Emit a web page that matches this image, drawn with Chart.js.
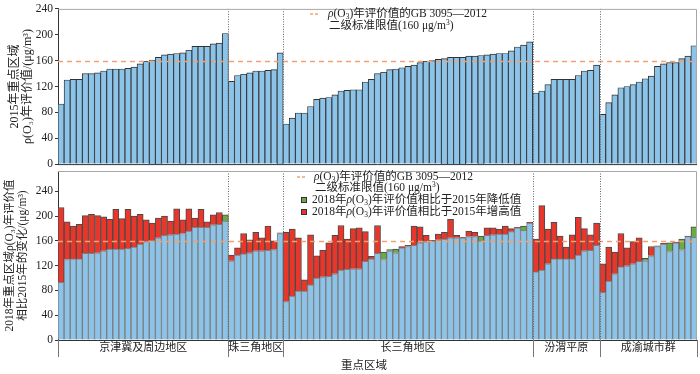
<!DOCTYPE html>
<html>
<head>
<meta charset="utf-8">
<script src="https://cdn.jsdelivr.net/npm/chart.js@4.4.0/dist/chart.umd.min.js"></script>
<style>
  body { margin: 0; background: #fff; width: 700px; height: 374px; position: relative; overflow: hidden; }
  canvas { position: absolute; left: 0; }
  #topChart { top: 0; }
  #botChart { top: 160px; }
</style>
</head>
<body>
<canvas id="topChart" width="700" height="173"></canvas>
<canvas id="botChart" width="700" height="214"></canvas>
<script>
// regions and how many cities each one has
const regions = ['京津冀及周边地区', '珠三角地区', '长三角地区', '汾渭平原', '成渝城市群'];
const regionCounts = [28, 9, 41, 11, 16];

// O3 annual evaluation values, µg/m3 (cities sorted by 2015 value inside each region)
const o3_2015 = [
  93, 130, 131, 131, 140, 140, 141, 144, 147, 147, 147, 148, 150, 155, 159, 161, 165, 169, 170, 171, 172, 176, 182, 182, 182, 186, 187, 202,
  128, 137, 139, 141, 144, 144, 145, 146, 172,
  62, 71, 79, 79, 89, 100, 102, 103, 107, 113, 114, 115, 115, 127, 131, 140, 142, 146, 147, 149, 151, 153, 157, 159, 160, 162, 163, 165, 165, 165, 167, 167, 168, 169, 170, 171, 171, 175, 181, 184, 189,
  110, 113, 123, 131, 131, 131, 131, 137, 144, 145, 153,
  77, 95, 107, 118, 120, 123, 127, 132, 136, 151, 155, 157, 157, 163, 167, 183
];
const o3_2018 = [
  214, 191, 184, 187, 201, 203, 201, 199, 195, 211, 196, 211, 200, 203, 194, 189, 197, 200, 192, 212, 194, 212, 197, 211, 191, 202, 206, 192,
  137, 149, 172, 162, 174, 165, 184, 160, 173,
  174, 179, 165, 97, 170, 136, 145, 157, 169, 185, 163, 180, 181, 175, 135, 185, 130, 144, 141, 151, 153, 184, 183, 169, 161, 171, 174, 195, 169, 166, 176, 174, 160, 181, 181, 179, 184, 180, 182, 177, 190,
  163, 217, 179, 190, 168, 150, 170, 198, 180, 170, 189,
  123, 150, 142, 172, 149, 159, 165, 128, 151, 152, 156, 143, 158, 146, 168, 166
];

const yTicks = [0, 40, 80, 120, 160, 200, 240];
const standard = 160;

const labels = o3_2015.map((v, i) => 'c' + (i + 1));
const baseVals = o3_2015.map((v, i) => Math.min(v, o3_2018[i]));
const downVals = o3_2015.map((v, i) => v > o3_2018[i] ? v - o3_2018[i] : null);
const upVals = o3_2015.map((v, i) => o3_2018[i] > v ? o3_2018[i] - v : null);

const SERIF = "'Liberation Serif','DejaVu Serif','Noto Sans CJK SC',serif";
const BLUE = '#8cc3e8';
const RED = '#e8372a';
const GREEN = '#6aab45';
const DASH = '#f2a272';

// draws text made of parts: {t, it, sub, sup}
function drawRich(ctx, parts, x, y, size) {
  ctx.textBaseline = 'middle';
  ctx.textAlign = 'left';
  for (const p of parts) {
    const s = (p.sub || p.sup) ? size * 0.65 : size;
    ctx.font = (p.it ? 'italic ' : '') + s + 'px ' + SERIF;
    const dy = p.sub ? size * 0.25 : (p.sup ? -size * 0.3 : 0);
    ctx.fillText(p.t, x, y + dy);
    x += ctx.measureText(p.t).width;
  }
}

const line1 = [{t: 'ρ', it: true}, {t: '(O'}, {t: '3', sub: true}, {t: ')年评价值的GB 3095—2012'}];
const line2 = [{t: '二级标准限值(160 μg/m'}, {t: '3', sup: true}, {t: ')'}];
const line3 = [{t: '2018年'}, {t: 'ρ', it: true}, {t: '(O'}, {t: '3', sub: true}, {t: ')年评价值相比于2015年降低值'}];
const line4 = [{t: '2018年'}, {t: 'ρ', it: true}, {t: '(O'}, {t: '3', sub: true}, {t: ')年评价值相比于2015年增高值'}];

function boundaries(chart) {
  const x = chart.scales.x;
  const out = [];
  let idx = 0;
  for (let r = 0; r < regionCounts.length - 1; r++) {
    idx += regionCounts[r];
    out.push((x.getPixelForValue(idx - 1) + x.getPixelForValue(idx)) / 2);
  }
  return out;
}

const decor = {
  id: 'decor',
  afterDatasetsDraw(chart, args, opts) {
    const {ctx, chartArea: a} = chart;
    const y = chart.scales.y;
    ctx.save();
    // standard line
    ctx.strokeStyle = DASH;
    ctx.lineWidth = 1.3;
    ctx.setLineDash([5, 4]);
    const ys = Math.round(y.getPixelForValue(standard)) + 0.5;
    ctx.beginPath(); ctx.moveTo(a.left, ys); ctx.lineTo(a.right, ys); ctx.stroke();
    // region separators
    ctx.strokeStyle = '#666';
    ctx.lineWidth = 1;
    ctx.setLineDash([1, 1.5]);
    for (const bx of boundaries(chart)) {
      const px = Math.round(bx) + 0.5;
      ctx.beginPath(); ctx.moveTo(px, a.top); ctx.lineTo(px, a.bottom); ctx.stroke();
    }
    ctx.setLineDash([]);
    // frame
    ctx.strokeStyle = '#a6a6a6';
    ctx.beginPath();
    ctx.moveTo(a.left, a.top + 0.5); ctx.lineTo(a.right - 0.5, a.top + 0.5); ctx.lineTo(a.right - 0.5, a.bottom);
    ctx.stroke();
    ctx.strokeStyle = '#333';
    ctx.beginPath(); ctx.moveTo(a.left, a.bottom + 0.5); ctx.lineTo(a.right, a.bottom + 0.5); ctx.stroke();

    // legend
    const L = opts.legend;
    ctx.fillStyle = '#222';
    ctx.strokeStyle = DASH;
    ctx.lineWidth = 1.3;
    ctx.setLineDash([3, 2]);
    ctx.beginPath(); ctx.moveTo(L.x0, L.y[0]); ctx.lineTo(L.x0 + 10, L.y[0]); ctx.stroke();
    ctx.setLineDash([]);
    drawRich(ctx, line1, L.x1, L.y[0], 11.5);
    drawRich(ctx, line2, L.x1 + 1, L.y[1], 11.5);
    if (L.y.length > 2) {
      ctx.lineWidth = 1;
      ctx.fillStyle = GREEN; ctx.fillRect(L.x0 + 4, L.y[2] - 3, 6, 6);
      ctx.strokeStyle = '#333'; ctx.strokeRect(L.x0 + 4.5, L.y[2] - 2.5, 5, 5);
      ctx.fillStyle = RED; ctx.fillRect(L.x0 + 4, L.y[3] - 3, 6, 6);
      ctx.strokeRect(L.x0 + 4.5, L.y[3] - 2.5, 5, 5);
      ctx.fillStyle = '#222';
      drawRich(ctx, line3, L.x1 - 2, L.y[2], 11.5);
      drawRich(ctx, line4, L.x1 - 2, L.y[3], 11.5);
    }

    // region axis under the lower panel
    if (opts.regionAxis) {
      const xs = [a.left, ...boundaries(chart), a.right];
      ctx.strokeStyle = '#777';
      ctx.lineWidth = 1;
      for (const bx of xs) {
        const px = Math.round(bx) + 0.5;
        ctx.beginPath(); ctx.moveTo(px, a.bottom); ctx.lineTo(px, a.bottom + 17); ctx.stroke();
      }
      ctx.fillStyle = '#222';
      ctx.font = '11px ' + SERIF;
      ctx.textAlign = 'center';
      ctx.textBaseline = 'middle';
      regions.forEach((r, i) => ctx.fillText(r, (xs[i] + xs[i + 1]) / 2, a.bottom + 8));
      ctx.font = '11.5px ' + SERIF;
      ctx.fillText('重点区域', 364, a.bottom + 26);
    }
    ctx.restore();
  }
};

function yAxis(max, title, titlePad, titleSize) {
  return {
    min: 0, max: max,
    afterBuildTicks: s => { s.ticks = yTicks.map(v => ({value: v})); },
    afterFit: s => { s.width = 58; },
    border: {color: '#333'},
    grid: {drawOnChartArea: false, tickLength: 3, color: '#333'},
    ticks: {font: {family: SERIF, size: 11.5}, color: '#222', padding: 2},
    title: {display: true, text: title, color: '#222', padding: {top: titlePad, bottom: 0},
      font: {family: SERIF, size: titleSize, lineHeight: 1.1}}
  };
}

const xAxis = {display: false, stacked: true};

new Chart(document.getElementById('topChart'), {
  type: 'bar',
  data: {
    labels: labels,
    datasets: [{data: o3_2015, backgroundColor: BLUE, borderColor: '#333', borderWidth: 0.9,
      barPercentage: 1, categoryPercentage: 1}]
  },
  options: {
    responsive: false, animation: false, devicePixelRatio: 1,
    layout: {padding: {left: 0, right: 3, top: 6, bottom: 0}},
    plugins: {legend: {display: false}, tooltip: {enabled: false},
      decor: {legend: {x0: 310, x1: 328, y: [14, 26]}}},
    scales: {
      x: xAxis,
      y: yAxis(240, ['2015年重点区域', 'ρ(O₃)年评价值/(μg/m³)'], 8, 12)
    }
  },
  plugins: [decor]
});

new Chart(document.getElementById('botChart'), {
  type: 'bar',
  data: {
    labels: labels,
    datasets: [
      {data: baseVals, backgroundColor: BLUE, borderColor: '#7d7d7d', borderWidth: 1},
      {data: downVals, backgroundColor: GREEN, borderColor: '#4a4a4a', borderWidth: 1},
      {data: upVals, backgroundColor: RED, borderColor: '#4a4a4a', borderWidth: 1}
    ]
  },
  options: {
    responsive: false, animation: false, devicePixelRatio: 1,
    datasets: {bar: {barPercentage: 1, categoryPercentage: 1}},
    layout: {padding: {left: 0, right: 3, top: 11, bottom: 34}},
    plugins: {legend: {display: false}, tooltip: {enabled: false},
      decor: {legend: {x0: 297, x1: 314, y: [17, 28, 40, 52]}, regionAxis: true}},
    scales: {
      x: xAxis,
      y: Object.assign(yAxis(273, ['2018年重点区域ρ(O₃)年评价值', '相比2015年的变化/(μg/m³)'], 4, 11.5), {stacked: true})
    }
  },
  plugins: [decor]
});
</script>
</body>
</html>
